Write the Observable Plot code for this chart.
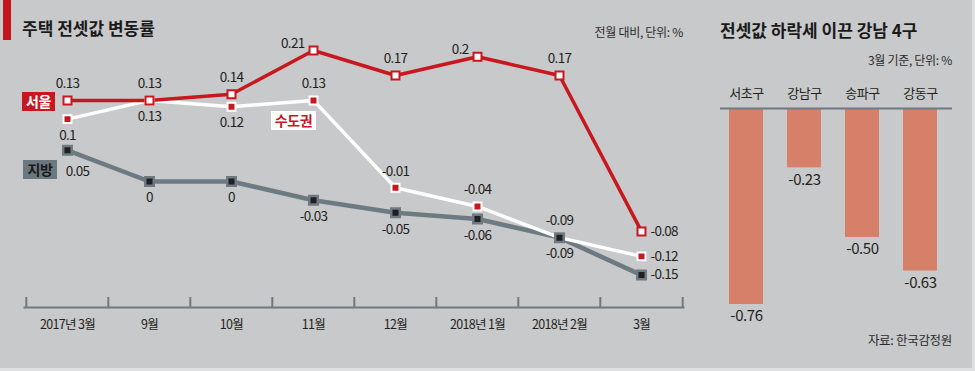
<!DOCTYPE html>
<html><head><meta charset="utf-8">
<script src="https://cdn.jsdelivr.net/npm/d3@7"></script>
<script src="https://cdn.jsdelivr.net/npm/@observablehq/plot@0.6"></script>
<style>
body{margin:0;background:#dfe0e1;}
#wrap{position:relative;width:975px;height:371px;background:#dfe0e1;overflow:hidden;font-family:'Noto Sans CJK KR','Noto Sans',sans-serif;color:#231f20;}
#panel{position:absolute;left:0;top:0;width:972px;height:368px;background:#c8c9cb;}
.abs{position:absolute;white-space:nowrap;}
#wrap svg{position:absolute;left:0;top:0;}
.lc text{letter-spacing:-0.7px;}
.bc text{letter-spacing:-0.4px;}
.title{font-size:17px;font-weight:700;line-height:20px;height:20px;color:#1a1a1a;}
.note{font-size:12px;line-height:16px;height:16px;color:#2b2b2b;letter-spacing:-0.3px;}
.tag{font-size:14px;font-weight:700;line-height:19px;height:19px;text-align:center;letter-spacing:-0.3px;}
</style></head><body>
<div id="wrap">
  <div id="panel"></div>
  <div class="abs" style="left:3px;top:0;width:8px;height:40px;background:#c4161c"></div>
  <div class="abs title" style="left:22px;top:18px;">주택 전셋값 변동률</div>
  <div class="abs note" style="right:292px;top:24px;">전월 대비, 단위: %</div>
  <div class="abs title" style="left:720px;top:20px;">전셋값 하락세 이끈 강남 4구</div>
  <div class="abs note" style="right:23px;top:52px;">3월 기준, 단위: %</div>
  <div class="abs note" style="right:23px;top:332px;font-size:12.5px;">자료: 한국감정원</div>
  <div id="charts"></div>
  <div class="abs tag" style="left:22px;top:92px;width:33px;background:#c8171f;color:#fff;">서울</div>
  <div class="abs tag" style="left:271px;top:111px;width:45px;background:#fff;color:#c8171f;">수도권</div>
  <div class="abs tag" style="left:23px;top:160px;width:34px;background:#6b7880;color:#1a1a1a;">지방</div>
</div>
<script>
// ---- data ----
const months = ["2017년 3월","9월","10월","11월","12월","2018년 1월","2018년 2월","3월"];
const seoul    = [0.13, 0.13, 0.14, 0.21, 0.17, 0.2, 0.17, -0.08];
const sudogwon = [0.1, 0.13, 0.12, 0.13, -0.01, -0.04, -0.09, -0.12];
const jibang   = [0.05, 0, 0, -0.03, -0.05, -0.06, -0.09, -0.15];
const districts = ["서초구","강남구","송파구","강동구"];
const districtChange = [-0.76, -0.23, -0.50, -0.63];

// ---- label placement (layout only) ----
const seoulLabelAt = ["t","t","t","tl","t","tl","t","r"];
const sudoLabelAt  = ["b","b","b","t","t","t","t","r"];
const jibLabelAt   = ["br","b","b","b","b","b","b","r"];

const rows = (vals, at) => months.map((m, i) => ({month: m, value: vals[i], at: at[i]}));
const seoulRows = rows(seoul, seoulLabelAt);
const sudoRows = rows(sudogwon, sudoLabelAt);
const jibRows = rows(jibang, jibLabelAt);
const barRows = districts.map((d, i) => ({district: d, value: districtChange[i]}));

const RED = "#c8171f", GRAY = "#6d7a82", DARK = "#231f20";
const place = {
  t: {dy: -16.5, textAnchor: "middle"},
  b: {dy: 16.5, textAnchor: "middle"},
  tl: {dx: -9, dy: -7, textAnchor: "end"},
  r: {dx: 9, dy: 0, textAnchor: "start"},
  br: {dx: 10, dy: 21, textAnchor: "middle"}
};
function labels(data) {
  return Object.keys(place).map(k => Plot.text(data.filter(d => d.at === k), {
    x: "month", y: "value", text: d => String(d.value), fontSize: 13.5, fill: DARK, ...place[k]
  }));
}

const x0 = 24, x1 = 683;
const bw = (x1 - x0) / months.length;
const fontFamily = "'Noto Sans CJK KR','Noto Sans',sans-serif";

const lineChart = Plot.plot({
  width: 975, height: 371,
  marginLeft: x0, marginRight: 975 - x1, marginTop: 20, marginBottom: 64,
  className: "lc",
  style: {background: "transparent", fontFamily, fontSize: "13px", color: DARK},
  x: {type: "band", domain: months, padding: 0, label: null},
  y: {domain: [-0.15, 0.21], range: [274.6, 50], axis: null},
  marks: [
    Plot.frame({anchor: "bottom", stroke: GRAY, strokeWidth: 2}),
    Plot.axisX({ticks: months, tickSize: 10, dy: -10, dx: -bw / 2, text: null, label: null, stroke: GRAY, strokeWidth: 2}),
    Plot.axisX({ticks: [months[months.length - 1]], tickSize: 10, dy: -10, dx: bw / 2, text: null, label: null, stroke: GRAY, strokeWidth: 2}),
    Plot.axisX({tickSize: 0, tickPadding: 13, fontSize: 12.5, fill: DARK, label: null}),
    Plot.line(jibRows, {x: "month", y: "value", stroke: GRAY, strokeWidth: 4.5}),
    Plot.line(sudoRows, {x: "month", y: "value", stroke: "white", strokeWidth: 3.5}),
    Plot.line(seoulRows, {x: "month", y: "value", stroke: RED, strokeWidth: 3.5}),
    Plot.dot(sudoRows, {x: "month", y: "value", symbol: "square", r: 4.5, fill: RED, stroke: "white", strokeWidth: 2}),
    Plot.dot(jibRows, {x: "month", y: "value", symbol: "square", r: 4.8, fill: DARK, stroke: GRAY, strokeWidth: 2.5}),
    Plot.dot(seoulRows, {x: "month", y: "value", symbol: "square", r: 4.5, fill: "white", stroke: RED, strokeWidth: 2}),
    ...labels(seoulRows),
    ...labels(sudoRows),
    ...labels(jibRows)
  ]
});

const barChart = Plot.plot({
  width: 975, height: 371,
  marginLeft: 720, marginRight: 23, marginTop: 20, marginBottom: 20,
  className: "bc",
  style: {background: "transparent", fontFamily, fontSize: "13px", color: DARK},
  x: {type: "band", domain: districts, range: [716, 949], paddingInner: 0.416, paddingOuter: 0.208, axis: null},
  y: {domain: [-0.76, 0], range: [304, 108], axis: null},
  marks: [
    Plot.barY(barRows, {x: "district", y: "value", fill: "#d67f69"}),
    Plot.ruleY([0], {stroke: GRAY, strokeWidth: 2}),
    Plot.text(barRows, {x: "district", y: 0, dy: -15, text: "district", fontSize: 13, fill: DARK}),
    Plot.text(barRows, {x: "district", y: "value", dy: 12, text: d => d.value.toFixed(2), fontSize: 15, fill: DARK})
  ]
});

const host = document.getElementById("charts");
host.appendChild(lineChart);
host.appendChild(barChart);
</script>
</body></html>
